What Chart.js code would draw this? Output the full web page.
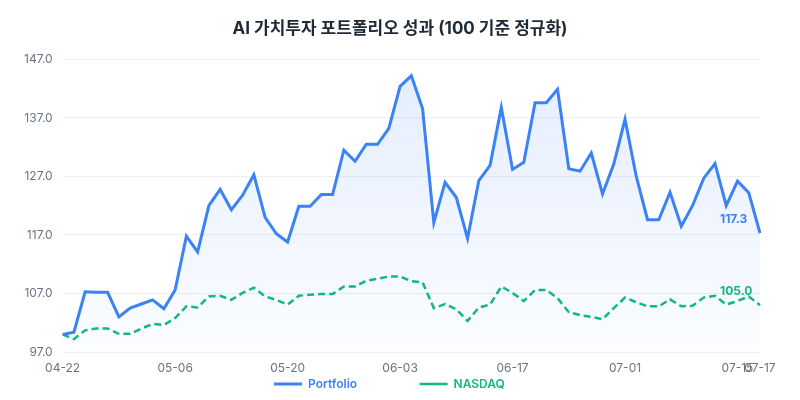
<!DOCTYPE html>
<html>
<head>
<meta charset="utf-8">
<script src="https://cdn.jsdelivr.net/npm/chart.js@4.4.1/dist/chart.umd.min.js"></script>
<style>
  html, body { margin: 0; padding: 0; background: #ffffff; }
  #wrap { width: 800px; height: 400px; }
</style>
</head>
<body>
<div id="wrap"><canvas id="chart" width="800" height="400"></canvas></div>
<script>
// ---- данные (читались с картинки) ----
const dates = [
  "04-22","04-23","04-24","04-25","04-28","04-29","04-30","05-01","05-02","05-05",
  "05-06","05-07","05-08","05-09","05-12","05-13","05-14","05-15","05-16","05-19",
  "05-20","05-21","05-22","05-23","05-26","05-27","05-28","05-29","05-30","06-02",
  "06-03","06-04","06-05","06-06","06-09","06-10","06-11","06-12","06-13","06-16",
  "06-17","06-18","06-19","06-20","06-23","06-24","06-25","06-26","06-27","06-30",
  "07-01","07-02","07-03","07-04","07-07","07-08","07-09","07-10","07-11","07-14",
  "07-15","07-16","07-17"
];

const portfolio = [
  100.0, 100.4, 107.3, 107.2, 107.2, 103.0, 104.5, 105.2, 105.9, 104.4,
  107.6, 116.8, 114.1, 122.0, 124.8, 121.3, 123.8, 127.3, 120.0, 117.2,
  115.8, 121.9, 121.9, 123.9, 123.9, 131.5, 129.6, 132.5, 132.5, 135.2,
  142.4, 144.2, 138.6, 119.1, 126.0, 123.4, 116.4, 126.3, 128.9, 138.8,
  128.2, 129.4, 139.6, 139.6, 141.9, 128.3, 127.9, 131.0, 124.0, 129.1,
  136.8, 127.0, 119.6, 119.6, 124.3, 118.5, 122.0, 126.7, 129.2, 122.0,
  126.2, 124.2, 117.3
];

const nasdaq = [
  100.0, 99.2, 100.7, 101.0, 101.0, 100.1, 100.1, 101.0, 101.8, 101.6,
  102.8, 104.8, 104.6, 106.5, 106.6, 105.9, 107.1, 108.0, 106.5, 105.9,
  105.1, 106.6, 106.8, 106.9, 106.9, 108.2, 108.2, 109.2, 109.5, 109.9,
  109.9, 109.1, 108.9, 104.5, 105.2, 104.3, 102.3, 104.6, 105.1, 108.2,
  107.1, 105.7, 107.6, 107.6, 106.2, 103.8, 103.3, 103.0, 102.6, 104.5,
  106.3, 105.5, 104.8, 104.8, 106.0, 104.8, 104.9, 106.3, 106.6, 105.1,
  105.7, 106.5, 105.0
];

const yTicks = [97, 107, 117, 127, 137, 147];

const BLUE = '#3b82f6';
const GREEN = '#10b981';
const FONT = "Inter, 'Noto Sans CJK KR', sans-serif";
const LEG_PAD = 2;     // padding легенды
const LEG_GAP = 62;    // промежуток между элементами
const LEG_TAIL = 22;   // сдвиг легенды влево

// подписи последних значений
const endLabels = {
  id: 'endLabels',
  afterDatasetsDraw(chart) {
    const ctx = chart.ctx;
    chart.data.datasets.forEach((ds, i) => {
      const meta = chart.getDatasetMeta(i);
      const pt = meta.data[meta.data.length - 1];
      if (!pt) return;
      ctx.save();
      ctx.font = "bold 12px " + FONT;
      ctx.fillStyle = ds.borderColor;
      ctx.textAlign = 'left';
      ctx.textBaseline = 'middle';
      ctx.fillText(ds.data[ds.data.length - 1].toFixed(1), pt.x - 40, pt.y - 14);
      ctx.restore();
    });
  }
};

new Chart(document.getElementById('chart'), {
  type: 'line',
  data: {
    labels: dates,
    datasets: [
      {
        label: 'Portfolio',
        data: portfolio,
        borderColor: BLUE,
        borderWidth: 3,
        pointRadius: 0,
        tension: 0,
        fill: 'start',
        backgroundColor: (c) => {
          const area = c.chart.chartArea;
          if (!area) return 'rgba(59,130,246,0.08)';
          const g = c.chart.ctx.createLinearGradient(0, area.top, 0, area.bottom);
          g.addColorStop(0, 'rgba(59,130,246,0.14)');
          g.addColorStop(1, 'rgba(59,130,246,0.02)');
          return g;
        }
      },
      {
        label: 'NASDAQ',
        data: nasdaq,
        borderColor: GREEN,
        borderWidth: 2.5,
        borderDash: [7, 4],
        pointRadius: 0,
        tension: 0,
        fill: false
      }
    ]
  },
  options: {
    responsive: false,
    animation: false,
    layout: { padding: { left: 14, right: 14, top: 10, bottom: 0 } },
    plugins: {
      title: {
        display: true,
        text: 'AI 가치투자 포트폴리오 성과 (100 기준 정규화)',
        color: '#1f2937',
        font: { family: FONT, size: 17, weight: 'bold' },
        padding: { top: 9, bottom: 20 }
      },
      legend: {
        position: 'bottom',
        labels: {
          usePointStyle: true,
          pointStyle: 'line',
          pointStyleWidth: 28,
          padding: LEG_PAD,
          font: { family: FONT, size: 12, weight: '600' },
          generateLabels(chart) {
            const ctx = chart.ctx;
            ctx.save();
            ctx.font = "600 12px " + FONT;
            const sp = ctx.measureText('\u00a0').width || 3;
            ctx.restore();
            const items = Chart.defaults.plugins.legend.labels.generateLabels(chart);
            return items.map((it, k) => {
              const ds = chart.data.datasets[it.datasetIndex];
              it.fontColor = ds.borderColor;
              it.strokeStyle = ds.borderColor;
              it.fillStyle = ds.borderColor;
              const extra = k < items.length - 1 ? LEG_GAP - LEG_PAD : LEG_TAIL;
              it.text += '\u00a0'.repeat(Math.round(extra / sp));
              return it;
            });
          }
        }
      },
      tooltip: { enabled: false }
    },
    scales: {
      x: {
        grid: { display: false, drawTicks: false },
        border: { display: false },
        afterFit: (s) => { s.height = 24; },
        ticks: {
          autoSkip: false,
          maxRotation: 0,
          padding: 9,
          color: '#6b7280',
          font: { family: FONT, size: 12 },
          callback: function (v, i) {
            return (i % 10 === 0 || i === dates.length - 1) ? dates[i] : null;
          }
        }
      },
      y: {
        min: yTicks[0],
        max: yTicks[yTicks.length - 1],
        afterBuildTicks: (axis) => { axis.ticks = yTicks.map(v => ({ value: v })); },
        grid: { color: '#eeeff2', drawTicks: false },
        border: { display: false },
        ticks: {
          padding: 10,
          color: '#6b7280',
          font: { family: FONT, size: 12 },
          callback: (v) => Number(v).toFixed(1)
        }
      },
      // пустая правая ось: держит правый край области графика
      yRight: {
        position: 'right',
        display: true,
        grid: { display: false, drawTicks: false },
        border: { display: false },
        ticks: { display: false },
        afterFit: (s) => { s.width = 26; }
      }
    }
  },
  plugins: [endLabels]
});
</script>
</body>
</html>
